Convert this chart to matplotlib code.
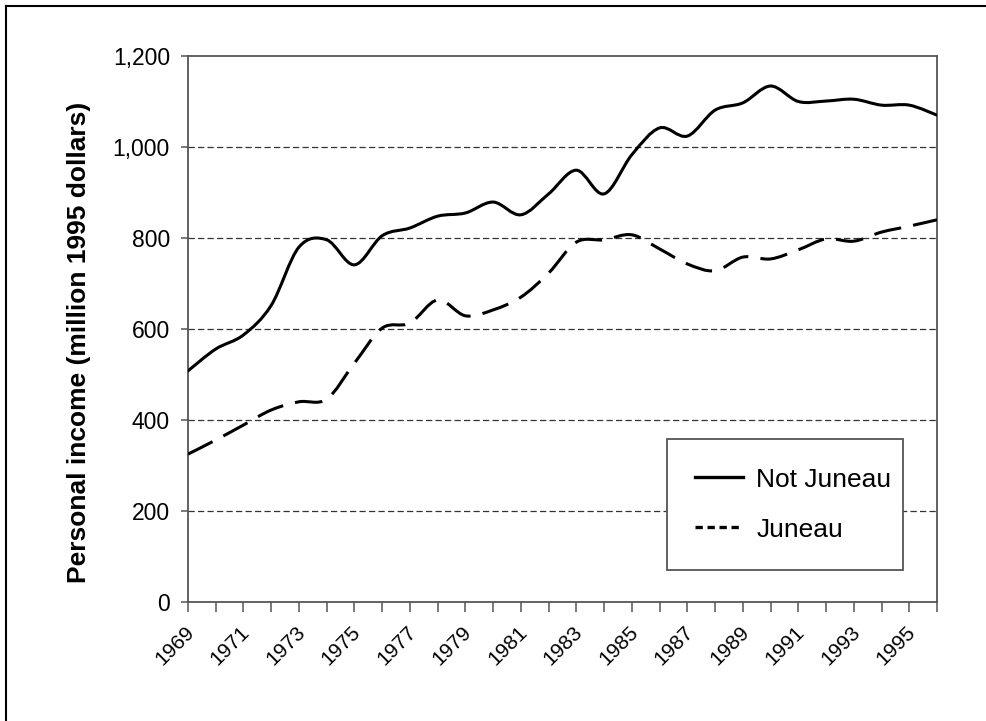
import numpy as np
import matplotlib
matplotlib.use('Agg')
import matplotlib.pyplot as plt
from matplotlib.path import Path
from matplotlib.patches import PathPatch
from matplotlib.lines import Line2D
from matplotlib.ticker import FuncFormatter
import matplotlib.transforms as mtransforms

plt.rcParams['font.family'] = ['Liberation Sans', 'DejaVu Sans']

years = list(range(1969, 1997))
not_juneau = [508, 556, 587, 652, 780, 796, 741, 805, 822, 848, 855, 879, 851, 897,
              949, 897, 983, 1042, 1024, 1081, 1097, 1134, 1100, 1101, 1105, 1092,
              1092, 1070]
juneau = [325, 356, 389, 422, 440, 446, 525, 602, 613, 664, 629, 642, 670, 723,
          791, 796, 807, 776, 743, 728, 758, 754, 774, 798, 793, 813, 826, 840]
series_names = ['Not Juneau', 'Juneau']


def smooth_path(xs, ys):
    # smoothed line like the spreadsheet: cubic Bezier between points
    p = np.column_stack([xs, ys]).astype(float)
    ext = np.vstack([p[0], p, p[-1]])
    verts = [p[0]]
    codes = [Path.MOVETO]
    for i in range(len(p) - 1):
        c1 = ext[i + 1] + (ext[i + 2] - ext[i]) / 6
        c2 = ext[i + 2] - (ext[i + 3] - ext[i + 1]) / 6
        verts += [c1, c2, p[i + 1]]
        codes += [Path.CURVE4] * 3
    return Path(verts, codes)


fig = plt.figure(figsize=(9.86, 7.21), dpi=100)
ax = fig.add_axes([188 / 986, 1 - 602 / 721, 749 / 986, 546 / 721])

solid = PathPatch(smooth_path(years, not_juneau), fill=False, edgecolor='black',
                  linewidth=2.2, joinstyle='round', capstyle='round', zorder=3)
dashed = PathPatch(smooth_path(years, juneau), fill=False, edgecolor='black',
                   linewidth=2.2, linestyle=(0, (9, 4)), joinstyle='round',
                   capstyle='butt', zorder=3)
ax.add_patch(solid)
ax.add_patch(dashed)

ax.set_xlim(1969, 1996)
ax.set_ylim(0, 1200)
ax.set_yticks(range(0, 1201, 200))
ax.yaxis.set_major_formatter(FuncFormatter(lambda v, p: f'{int(v):,}'))
ax.set_xticks(years)
ax.set_xticklabels([str(y) if (y - 1969) % 2 == 0 else '' for y in years])

for v in range(200, 1001, 200):
    ax.axhline(v, color='#333333', linewidth=0.9, linestyle=(0, (5, 2.6)), zorder=1)

for s in ax.spines.values():
    s.set_color('#555555')
    s.set_linewidth(1.3)

ax.tick_params(axis='y', direction='out', length=5, width=1.1, color='#555555',
               labelsize=16.5, pad=8)
ax.tick_params(axis='x', direction='out', length=7, width=1.1, color='#555555',
               labelsize=15, pad=8)
offset = mtransforms.ScaledTranslation(10 / 100, 0, fig.dpi_scale_trans)
for lbl in ax.get_xticklabels():
    lbl.set_rotation(45)
    lbl.set_ha('right')
    lbl.set_va('top')
    lbl.set_transform(lbl.get_transform() + offset)

ax.set_ylabel('Personal income (million 1995 dollars)', fontsize=19,
              fontweight='bold')
ax.yaxis.set_label_coords(-0.13, 0.475)

handles = [Line2D([], [], color='black', linewidth=2.4),
           Line2D([], [], color='black', linewidth=2.4, linestyle=(0, (2.2, 1.4)))]
leg = ax.legend(handles, series_names, loc='lower left',
                bbox_to_anchor=(0.6395, 0.0586, 0.315, 0.24), mode='expand',
                fontsize=19, frameon=True, fancybox=False, framealpha=1,
                borderpad=1.08, labelspacing=0.98,
                handlelength=1.8, handletextpad=0.5, borderaxespad=0)
leg.get_frame().set_edgecolor('#555555')
leg.get_frame().set_linewidth(1.3)

# outer frame of the picture (top and left edges only)
fig.add_artist(Line2D([6 / 986, 1], [1 - 6 / 721, 1 - 6 / 721],
                      transform=fig.transFigure, color='black', linewidth=1.5))
fig.add_artist(Line2D([6 / 986, 6 / 986], [0, 1 - 6 / 721],
                      transform=fig.transFigure, color='black', linewidth=1.5))

fig.savefig('out.png', dpi=100)
